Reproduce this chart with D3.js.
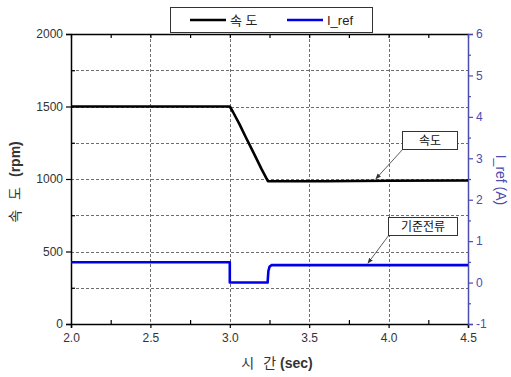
<!DOCTYPE html>
<html>
<head>
<meta charset="utf-8">
<script src="https://cdn.jsdelivr.net/npm/d3@7"></script>
<style>
  html, body { margin: 0; padding: 0; background: #fff; }
  svg { display: block; font-family: "Liberation Sans", Arial, "Noto Sans CJK KR", sans-serif; }
</style>
</head>
<body>
<svg id="chart" width="511" height="377"></svg>
<script>
// Speed response (rpm) and reference current (A) versus time (sec)
const speedTime  = [2.0, 3.0, 3.02, 3.06, 3.1, 3.15, 3.2, 3.24, 3.3, 3.6, 4.0, 4.5];
const speedValue = [1500, 1500, 1462, 1380, 1290, 1180, 1068, 985, 985, 985, 988, 990];

const irefTime  = [2.0, 3.0, 3.0, 3.238, 3.243, 3.25, 3.262, 4.5];
const irefValue = [0.49, 0.49, 0.0, 0.0, 0.28, 0.38, 0.42, 0.42];

const xTicks      = [2.0, 2.5, 3.0, 3.5, 4.0, 4.5];
const xMinorTicks = [2.25, 2.75, 3.25, 3.75, 4.25];
const yLeftTicks  = [0, 500, 1000, 1500, 2000];
const yLeftMinor  = [250, 750, 1250, 1750];
const yRightTicks = [-1, 0, 1, 2, 3, 4, 5, 6];
const yRightMinor = [-0.5, 0.5, 1.5, 2.5, 3.5, 4.5, 5.5];

const legendItems = [
  { label: "속 도", color: "#000000" },
  { label: "I_ref", color: "#0000e6" }
];

const notes = [
  { text: "속도",     series: "speed", t: 3.92, box: [402, 131, 55, 18] },
  { text: "기준전류", series: "iref",  t: 3.87, box: [388, 217, 69, 18] }
];

const m = { left: 71, right: 468, top: 34, bottom: 324 };
const axisBlue = "#4b4bb0";
const labelGray = "#333";

const svg = d3.select("#chart");

const x  = d3.scaleLinear().domain([2.0, 4.5]).range([m.left, m.right]);
const yL = d3.scaleLinear().domain([0, 2000]).range([m.bottom, m.top]);
const yR = d3.scaleLinear().domain([-1, 6]).range([m.bottom, m.top]);

// Dashed grid
const grid = svg.append("g").attr("stroke", "#6e6e6e").attr("stroke-width", 1)
  .attr("stroke-dasharray", "3,2");
grid.selectAll("line.v").data(xTicks.slice(1, -1)).join("line")
  .attr("x1", d => Math.round(x(d)) + 0.5).attr("x2", d => Math.round(x(d)) + 0.5)
  .attr("y1", m.top).attr("y2", m.bottom);
grid.selectAll("line.h").data(yLeftTicks.slice(1, -1).concat(yLeftMinor)).join("line")
  .attr("y1", d => Math.round(yL(d)) + 0.5).attr("y2", d => Math.round(yL(d)) + 0.5)
  .attr("x1", m.left).attr("x2", m.right);

// Axes
const fontSz = 12;
const minus = d => String(d).replace("\u2212", "-");
function styleAxis(g, color, textColor) {
  g.select(".domain").attr("stroke", color).attr("stroke-width", 1.5);
  g.selectAll(".tick line").attr("stroke", color).attr("stroke-width", 1.2);
  g.selectAll(".tick text").attr("fill", textColor).style("font-size", fontSz + "px");
}
function minorTicks(g, color) {
  g.select(".domain").remove();
  g.selectAll("line").attr("stroke", color).attr("stroke-width", 1.2);
}

const gB = svg.append("g").attr("transform", `translate(0,${m.bottom})`)
  .call(d3.axisBottom(x).tickValues(xTicks).tickFormat(d3.format(".1f")).tickSize(4).tickPadding(5));
styleAxis(gB, "#000", labelGray);
svg.append("g").attr("transform", `translate(0,${m.bottom})`)
  .call(d3.axisTop(x).tickValues(xMinorTicks).tickFormat("").tickSize(4))
  .call(g => minorTicks(g, "#000"));

const gT = svg.append("g").attr("transform", `translate(0,${m.top})`)
  .call(d3.axisBottom(x).tickValues(xTicks.concat(xMinorTicks)).tickFormat("").tickSizeOuter(0)
    .tickSizeInner(4));
styleAxis(gT, "#000", labelGray);

const gL = svg.append("g").attr("transform", `translate(${m.left},0)`)
  .call(d3.axisLeft(yL).tickValues(yLeftTicks).tickFormat(d3.format("d")).tickSize(5).tickPadding(3));
styleAxis(gL, "#000", labelGray);
svg.append("g").attr("transform", `translate(${m.left},0)`)
  .call(d3.axisRight(yL).tickValues(yLeftMinor).tickFormat("").tickSize(4))
  .call(g => minorTicks(g, "#000"));

const gR = svg.append("g").attr("transform", `translate(${m.right},0)`)
  .call(d3.axisRight(yR).tickValues(yRightTicks).tickFormat(d => minus(d3.format("d")(d)))
    .tickSize(5).tickPadding(3));
styleAxis(gR, axisBlue, axisBlue);
svg.append("g").attr("transform", `translate(${m.right},0)`)
  .call(d3.axisRight(yR).tickValues(yRightMinor).tickFormat("").tickSize(3))
  .call(g => minorTicks(g, axisBlue));

// Axis titles
const xTitle = svg.append("text").attr("x", 277).attr("y", 368)
  .attr("text-anchor", "middle").attr("fill", labelGray).style("font-size", "14px");
xTitle.append("tspan").text("시");
xTitle.append("tspan").attr("dx", 9).text("간");
xTitle.append("tspan").attr("dx", 4).style("font-weight", "bold").text("(sec)");

const yTitle = svg.append("text").attr("transform", `translate(20,${182}) rotate(-90)`)
  .attr("text-anchor", "middle").attr("fill", labelGray).style("font-size", "14px");
yTitle.append("tspan").text("속");
yTitle.append("tspan").attr("dx", 10).text("도");
yTitle.append("tspan").attr("dx", 10).style("font-weight", "bold").text("(rpm)");

svg.append("text").attr("transform", `translate(496,${180}) rotate(90)`)
  .attr("text-anchor", "middle").attr("fill", axisBlue).style("font-size", "14px")
  .text("I_ref (A)");

// Series lines
const speedData = speedTime.map((t, i) => [t, speedValue[i]]);
const irefData  = irefTime.map((t, i) => [t, irefValue[i]]);

svg.append("path").datum(irefData)
  .attr("fill", "none").attr("stroke", "#0000e6").attr("stroke-width", 2.6)
  .attr("stroke-linejoin", "round")
  .attr("d", d3.line().x(d => x(d[0])).y(d => yR(d[1])));

svg.append("path").datum(speedData)
  .attr("fill", "none").attr("stroke", "#000").attr("stroke-width", 2.6)
  .attr("stroke-linejoin", "round")
  .attr("d", d3.line().x(d => x(d[0])).y(d => yL(d[1])));

// Callout boxes with arrows
svg.append("defs").append("marker").attr("id", "arr")
  .attr("viewBox", "0 0 10 10").attr("refX", 9).attr("refY", 5)
  .attr("markerWidth", 7).attr("markerHeight", 7).attr("orient", "auto")
  .append("path").attr("d", "M0,1 L10,5 L0,9 Z").attr("fill", "#333");

function valueAt(ts, vs, t) {
  for (let i = 1; i < ts.length; i++) {
    if (t <= ts[i]) {
      const f = (t - ts[i - 1]) / (ts[i] - ts[i - 1] || 1);
      return vs[i - 1] + f * (vs[i] - vs[i - 1]);
    }
  }
  return vs[vs.length - 1];
}

notes.forEach(n => {
  const [bx, by, bw, bh] = n.box;
  const tx = x(n.t);
  const ty = n.series === "speed"
    ? yL(valueAt(speedTime, speedValue, n.t)) - 2
    : yR(valueAt(irefTime, irefValue, n.t)) - 2;
  svg.append("line").attr("x1", bx + 1).attr("y1", by + bh).attr("x2", tx).attr("y2", ty)
    .attr("stroke", "#333").attr("stroke-width", 0.8).attr("marker-end", "url(#arr)");
  svg.append("rect").attr("x", bx + 0.5).attr("y", by + 0.5).attr("width", bw).attr("height", bh)
    .attr("fill", "#fff").attr("stroke", "#333").attr("stroke-width", 1);
  svg.append("text").attr("x", bx + bw / 2 + 0.5).attr("y", by + bh / 2 + 5)
    .attr("text-anchor", "middle").attr("fill", "#111").style("font-size", "12px")
    .text(n.text);
});

// Legend
const lg = svg.append("g");
lg.append("rect").attr("x", 170.5).attr("y", 7.5).attr("width", 202).attr("height", 25)
  .attr("fill", "#fff").attr("stroke", "#333").attr("stroke-width", 1);
const lx = [190, 287];
legendItems.forEach((it, i) => {
  lg.append("line").attr("x1", lx[i]).attr("x2", lx[i] + 36).attr("y1", 20).attr("y2", 20)
    .attr("stroke", it.color).attr("stroke-width", 2.6);
  lg.append("text").attr("x", lx[i] + 40).attr("y", 25).attr("fill", "#222")
    .style("font-size", "13px").text(it.label);
});
</script>
</body>
</html>
